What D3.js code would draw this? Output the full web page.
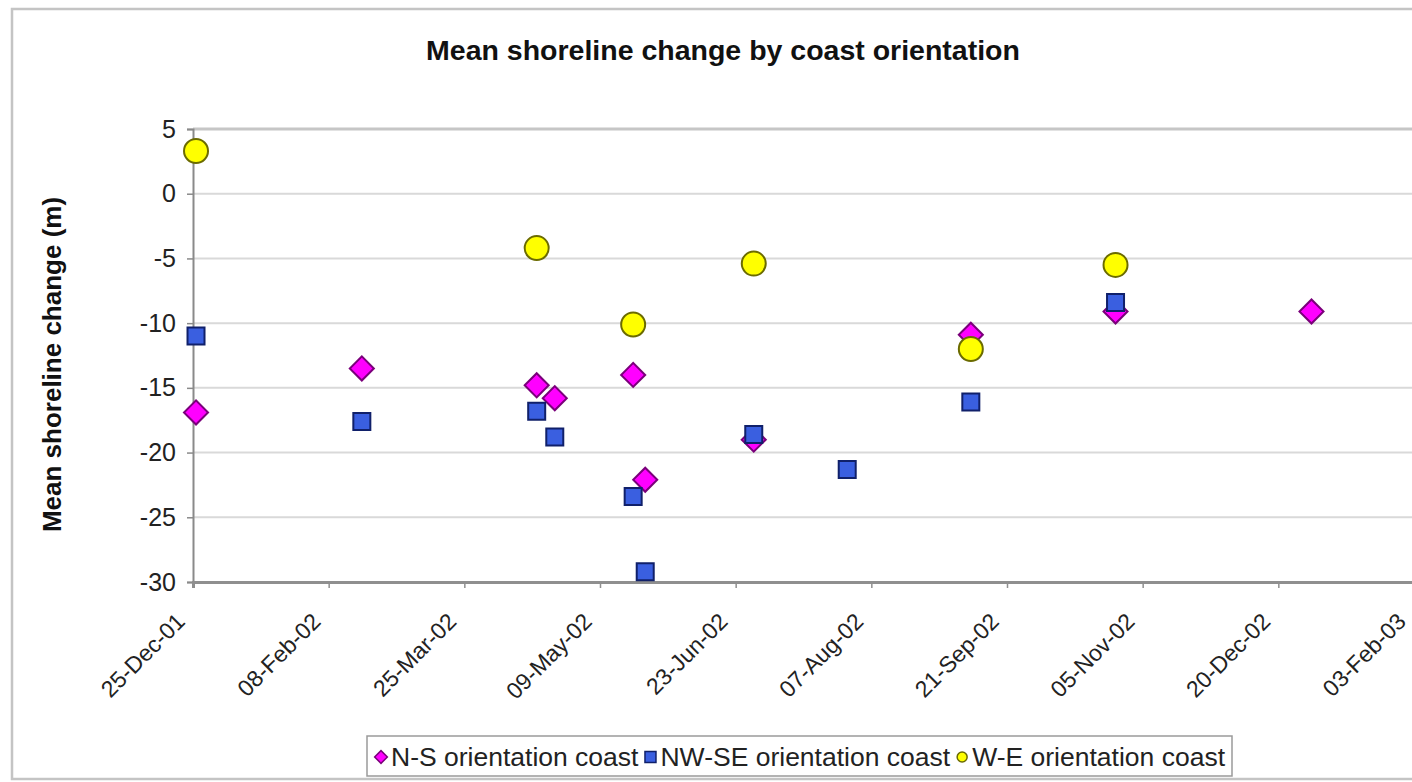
<!DOCTYPE html>
<html>
<head>
<meta charset="utf-8">
<script src="https://cdn.jsdelivr.net/npm/d3@7"></script>
<style>
  html, body { margin: 0; padding: 0; background: #ffffff; }
  svg { display: block; font-family: "Liberation Sans", Arial, sans-serif; }
</style>
</head>
<body>
<svg id="chart" width="1412" height="782"></svg>
<script>
// Survey dates and mean shoreline change (m) per coast orientation
const nsDates   = ["2001-12-26","2002-02-19","2002-04-18","2002-04-24","2002-05-20","2002-05-24","2002-06-29","2002-09-09","2002-10-27","2002-12-31"];
const nsValues  = [-16.9, -13.5, -14.8, -15.8, -14.0, -22.1, -19.0, -10.9, -9.1, -9.1];

const nwseDates  = ["2001-12-26","2002-02-19","2002-04-18","2002-04-24","2002-05-20","2002-05-24","2002-06-29","2002-07-30","2002-09-09","2002-10-27"];
const nwseValues = [-11.0, -17.6, -16.8, -18.8, -23.4, -29.2, -18.6, -21.3, -16.1, -8.4];

const weDates  = ["2001-12-26","2002-04-18","2002-05-20","2002-06-29","2002-09-09","2002-10-27"];
const weValues = [3.3, -4.2, -10.1, -5.4, -12.0, -5.5];

const xTickLabels = ["25-Dec-01","08-Feb-02","25-Mar-02","09-May-02","23-Jun-02","07-Aug-02","21-Sep-02","05-Nov-02","20-Dec-02","03-Feb-03"];
const yTicks = [5, 0, -5, -10, -15, -20, -25, -30];

const seriesNames = ["N-S orientation coast", "NW-SE orientation coast", "W-E orientation coast"];

const parseIso = d3.timeParse("%Y-%m-%d");
const parseTick = d3.timeParse("%d-%b-%y");

const series = [
  { name: seriesNames[0], shape: "diamond", fill: "#ff00ff", stroke: "#7a007a",
    points: nsDates.map((d, i) => ({ date: parseIso(d), value: nsValues[i] })) },
  { name: seriesNames[1], shape: "square", fill: "#3a5fe0", stroke: "#10206a",
    points: nwseDates.map((d, i) => ({ date: parseIso(d), value: nwseValues[i] })) },
  { name: seriesNames[2], shape: "circle", fill: "#ffff00", stroke: "#6b6b00",
    points: weDates.map((d, i) => ({ date: parseIso(d), value: weValues[i] })) }
];

const tickDates = xTickLabels.map(parseTick);

const svg = d3.select("#chart");
const plot = { left: 193, right: 1414, top: 129, bottom: 582 };

// Outer chart frame
svg.append("rect")
  .attr("x", 12).attr("y", 9)
  .attr("width", 1420).attr("height", 770)
  .attr("fill", "#ffffff")
  .attr("stroke", "#c4c4c4").attr("stroke-width", 2.5);

const x = d3.scaleTime()
  .domain([tickDates[0], tickDates[tickDates.length - 1]])
  .range([plot.left, plot.right]);

const y = d3.scaleLinear()
  .domain([-30, 5])
  .range([plot.bottom, plot.top]);

// Horizontal gridlines
svg.append("g")
  .selectAll("line")
  .data(yTicks.filter(v => v !== -30 && v !== 5))
  .join("line")
  .attr("x1", plot.left).attr("x2", plot.right)
  .attr("y1", d => y(d)).attr("y2", d => y(d))
  .attr("stroke", "#d9d9d9").attr("stroke-width", 2);

// Plot area top border
svg.append("line")
  .attr("x1", plot.left).attr("x2", plot.right)
  .attr("y1", y(5)).attr("y2", y(5))
  .attr("stroke", "#c6c6c6").attr("stroke-width", 3);

// Y axis
const yAxis = d3.axisLeft(y).tickValues(yTicks).tickSize(6).tickPadding(11)
  .tickFormat(d3.format("d"));
const gy = svg.append("g").attr("transform", `translate(${plot.left},0)`).call(yAxis);
gy.select(".domain").attr("stroke", "#8a8a8a").attr("stroke-width", 2);
gy.selectAll(".tick line").attr("stroke", "#8a8a8a").attr("stroke-width", 1.5);
gy.selectAll(".tick text")
  .attr("fill", "#222").attr("font-size", 25)
  .attr("font-family", "'Liberation Sans', Arial, sans-serif")
  .text(d => d < 0 ? "-" + Math.abs(d) : String(d));

// X axis
const xAxis = d3.axisBottom(x).tickValues(tickDates).tickSize(6)
  .tickFormat((d, i) => xTickLabels[i]);
const gx = svg.append("g").attr("transform", `translate(0,${plot.bottom})`).call(xAxis);
gx.select(".domain").attr("stroke", "#8f8f8f").attr("stroke-width", 3);
gx.selectAll(".tick line").attr("stroke", "#8f8f8f").attr("stroke-width", 1.5);
gx.selectAll(".tick text")
  .attr("fill", "#222").attr("font-size", 23)
  .attr("font-family", "'Liberation Sans', Arial, sans-serif")
  .attr("text-anchor", "end")
  .attr("y", 0).attr("dy", 0)
  .attr("transform", "translate(-19,29) rotate(-45)")
  .attr("dominant-baseline", "hanging");

// Marker symbols
const symbolFor = {
  diamond: d3.symbol().type(d3.symbolSquare).size(17 * 17),
  square: d3.symbol().type(d3.symbolSquare).size(17 * 17),
  circle: d3.symbol().type(d3.symbolCircle).size(Math.PI * 12 * 12)
};

series.forEach(s => {
  svg.append("g")
    .selectAll("path")
    .data(s.points)
    .join("path")
    .attr("d", symbolFor[s.shape])
    .attr("transform", d => `translate(${x(d.date)},${y(d.value)})` + (s.shape === "diamond" ? " rotate(45)" : ""))
    .attr("fill", s.fill)
    .attr("stroke", s.stroke)
    .attr("stroke-width", 2);
});

// Title
svg.append("text")
  .attr("x", 723).attr("y", 60)
  .attr("text-anchor", "middle")
  .attr("font-size", 28.5).attr("font-weight", "bold").attr("fill", "#111")
  .text("Mean shoreline change by coast orientation");

// Y axis title
svg.append("text")
  .attr("transform", `translate(61,${(plot.top + plot.bottom) / 2 + 9}) rotate(-90)`)
  .attr("text-anchor", "middle")
  .attr("font-size", 26).attr("font-weight", "bold").attr("fill", "#111")
  .text("Mean shoreline change (m)");

// Legend
const legend = svg.append("g");
const legendBox = legend.append("rect")
  .attr("y", 736).attr("height", 40)
  .attr("fill", "#ffffff").attr("stroke", "#9a9a9a").attr("stroke-width", 1.5);
let cx = 381;
const legendSym = {
  diamond: d3.symbol().type(d3.symbolSquare).size(9 * 9),
  square: d3.symbol().type(d3.symbolSquare).size(11 * 11),
  circle: d3.symbol().type(d3.symbolCircle).size(Math.PI * 5 * 5)
};
series.forEach(s => {
  legend.append("path")
    .attr("d", legendSym[s.shape])
    .attr("transform", `translate(${cx},757)` + (s.shape === "diamond" ? " rotate(45)" : ""))
    .attr("fill", s.fill).attr("stroke", s.stroke).attr("stroke-width", 1.5);
  const t = legend.append("text")
    .attr("x", cx + 10).attr("y", 766)
    .attr("font-size", 26.5).attr("fill", "#222")
    .text(s.name);
  cx = cx + 10 + t.node().getComputedTextLength() + 12;
});
legendBox.attr("x", 367).attr("width", cx - 12 + 7 - 367);
</script>
</body>
</html>
